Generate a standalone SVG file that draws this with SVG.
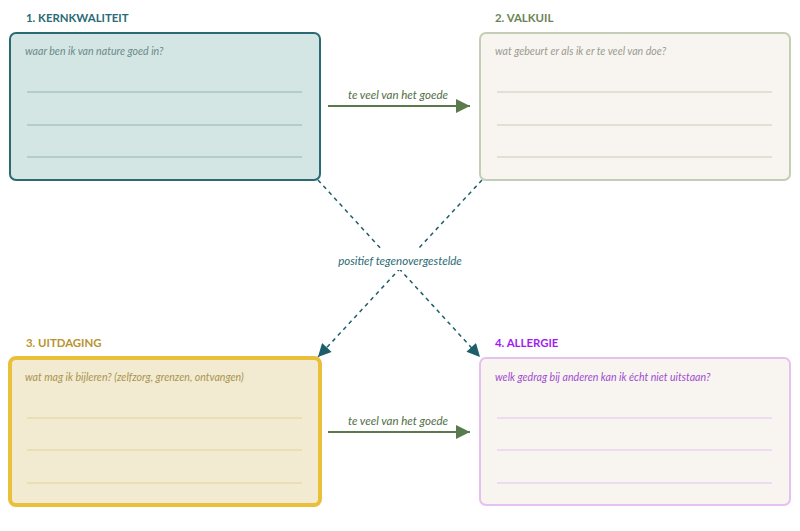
<svg xmlns="http://www.w3.org/2000/svg" width="800" height="531" viewBox="0 0 800 531">
<defs>
<marker id="agb" viewBox="0 0 10 10" refX="10" refY="5" markerWidth="16" markerHeight="14" markerUnits="userSpaceOnUse" orient="auto"><path d="M0,0 L10,5 L0,10 z" fill="#5b7a4c"/></marker>
<marker id="at" viewBox="0 0 10 10" refX="10" refY="5" markerWidth="15" markerHeight="13" markerUnits="userSpaceOnUse" orient="auto"><path d="M0,0 L10,5 L0,10 z" fill="#1d5e6b"/></marker>
</defs>
<style>
.t{font-family:Lato,"Liberation Sans",sans-serif;font-weight:bold;font-size:11.4px}
.s{font-family:Lato,"Liberation Sans",sans-serif;font-style:italic;font-size:10.6px}
.l{font-family:Lato,"Liberation Sans",sans-serif;font-style:italic;font-size:11.5px}
.ln{stroke-width:1.2}
</style>
<rect width="800" height="531" fill="#ffffff"/>
<g id="connectors">
<line x1="328" y1="106" x2="470" y2="106" stroke="#5b7a4c" stroke-width="1.8" marker-end="url(#agb)"/>
<text x="398" y="99" text-anchor="middle" class="l" fill="#4f6e43">te veel van het goede</text>
<line x1="328" y1="432" x2="470" y2="432" stroke="#5b7a4c" stroke-width="1.8" marker-end="url(#agb)"/>
<text x="398" y="425" text-anchor="middle" class="l" fill="#4f6e43">te veel van het goede</text>
<line x1="318" y1="180" x2="480" y2="357" stroke="#1d5e6b" stroke-width="1.5" stroke-dasharray="4,4" marker-end="url(#at)"/>
<line x1="482" y1="180" x2="318" y2="357" stroke="#1d5e6b" stroke-width="1.5" stroke-dasharray="4,4" marker-end="url(#at)"/>
<rect x="334" y="250" width="132" height="20" fill="#ffffff"/>
<text x="400" y="265" text-anchor="middle" class="l" fill="#2a6a75">positief tegenovergestelde</text>
</g>
<g id="kernkwaliteit">
<text x="26" y="22" class="t" fill="#2a6a75">1. KERNKWALITEIT</text>
<rect x="10" y="33" width="310" height="147" rx="6" fill="#d3e6e4" stroke="#2a6a75" stroke-width="2"/>
<text x="25" y="55" class="s" fill="#6b8a88">waar ben ik van nature goed in?</text>
<g stroke="#8fb5aa" class="ln"><line x1="27" y1="92" x2="302" y2="92"/><line x1="27" y1="125" x2="302" y2="125"/><line x1="27" y1="157" x2="302" y2="157"/></g>
</g>
<g id="valkuil">
<text x="495" y="22" class="t" fill="#6b8355">2. VALKUIL</text>
<rect x="480" y="33" width="310" height="147" rx="6" fill="#f8f5f0" stroke="#c4ceb6" stroke-width="2"/>
<text x="495" y="55" class="s" fill="#9a9a92">wat gebeurt er als ik er te veel van doe?</text>
<g stroke="#c4ceb6" class="ln"><line x1="497" y1="92" x2="772" y2="92"/><line x1="497" y1="125" x2="772" y2="125"/><line x1="497" y1="157" x2="772" y2="157"/></g>
</g>
<g id="uitdaging">
<text x="26" y="347" class="t" fill="#b8932e">3. UITDAGING</text>
<rect x="10" y="358" width="310" height="147" rx="6" fill="#f3ead2" stroke="#eabf3a" stroke-width="4"/>
<text x="25" y="381" class="s" fill="#a8954f">wat mag ik bijleren? (zelfzorg, grenzen, ontvangen)</text>
<g stroke="#e3d29a" class="ln"><line x1="27" y1="418" x2="302" y2="418"/><line x1="27" y1="450" x2="302" y2="450"/><line x1="27" y1="483" x2="302" y2="483"/></g>
</g>
<g id="allergie">
<text x="495" y="347" class="t" fill="#a21cf0">4. ALLERGIE</text>
<rect x="480" y="358" width="310" height="147" rx="6" fill="#f8f5f0" stroke="#e6c1f0" stroke-width="2"/>
<text x="495" y="381" class="s" fill="#a04cd0">welk gedrag bij anderen kan ik écht niet uitstaan?</text>
<g stroke="#e6c1f0" class="ln"><line x1="497" y1="418" x2="772" y2="418"/><line x1="497" y1="450" x2="772" y2="450"/><line x1="497" y1="483" x2="772" y2="483"/></g>
</g>
</svg>
